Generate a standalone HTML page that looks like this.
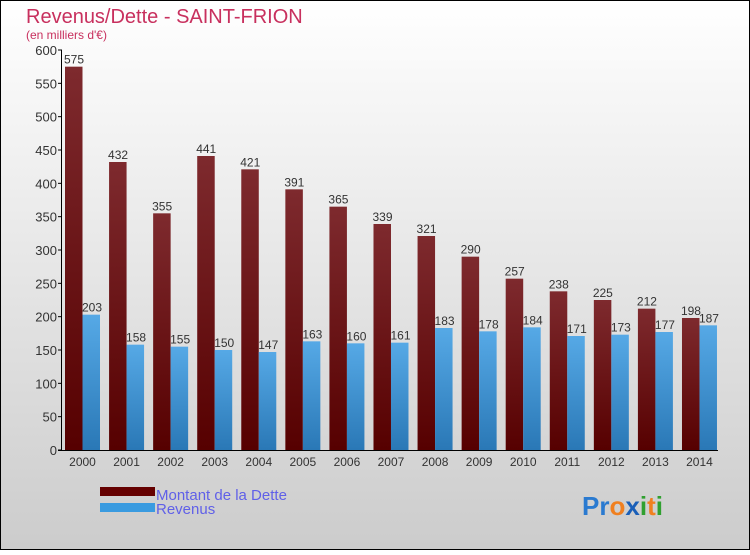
<!DOCTYPE html>
<html><head><meta charset="utf-8"><style>
body{margin:0;}
#c{position:relative;width:750px;height:550px;}
svg text{font-family:"Liberation Sans",sans-serif;}
</style></head><body>
<div id="c">
<svg id="s" width="750" height="550" xmlns="http://www.w3.org/2000/svg">
<defs>
<linearGradient id="bg" x1="0" y1="0" x2="0" y2="1"><stop offset="0" stop-color="#ffffff"/><stop offset="1" stop-color="#cccccc"/></linearGradient>
<linearGradient id="gd" x1="0" y1="0" x2="0" y2="1"><stop offset="0" stop-color="#7e2a2e"/><stop offset="1" stop-color="#560000"/></linearGradient>
<linearGradient id="gr" x1="0" y1="0" x2="0" y2="1"><stop offset="0" stop-color="#56a9e6"/><stop offset="1" stop-color="#2a78b6"/></linearGradient>
</defs>
<rect x="0.5" y="0.5" width="749" height="549" fill="url(#bg)" stroke="#000"/>
<text x="26" y="23" font-size="20" fill="#c8305e">Revenus/Dette - SAINT-FRION</text>
<text x="26" y="39" font-size="12" fill="#c8305e">(en milliers d'€)</text>
<g id="axes"></g>
<g id="bars"></g>
<rect x="100" y="487" width="55" height="9" fill="#650000"/>
<rect x="100" y="503" width="55" height="9" fill="#3a9be0"/>
<text x="156" y="500" font-size="15" fill="#6060e8">Montant de la Dette</text>
<text x="156" y="514" font-size="15" fill="#6060e8">Revenus</text>
<g font-size="26" font-weight="bold">
<text x="582" y="515"><tspan fill="#2a7ad0">Pr</tspan><tspan fill="#f08020">o</tspan><tspan fill="#1a5fb8">x</tspan><tspan fill="#30a030">i</tspan><tspan fill="#f08020">t</tspan><tspan fill="#30a030">i</tspan></text>
</g>
</svg>
</div>
<script>
const years=["2000","2001","2002","2003","2004","2005","2006","2007","2008","2009","2010","2011","2012","2013","2014"];
const dette=[575,432,355,441,421,391,365,339,321,290,257,238,225,212,198];
const revenus=[203,158,155,150,147,163,160,161,183,178,184,171,173,177,187];
const yTicks=[0,50,100,150,200,250,300,350,400,450,500,550,600];
const NS="http://www.w3.org/2000/svg";
const y0=450,yTop=50,yMax=600,x0=62,step=44.07;
function yS(v){return y0-(v/yMax)*(y0-yTop);}
function xS(i){return 65+i*step;}
function mk(t,a,p){const e=document.createElementNS(NS,t);for(const k in a)e.setAttribute(k,a[k]);p.appendChild(e);return e;}
const ax=document.getElementById('axes'),bg=document.getElementById('bars');
const yl=mk('line',{x1:x0-0.5,y1:yTop,x2:x0-0.5,y2:y0,stroke:'#000'},ax);


const xl=mk('line',{x1:x0-4,y1:y0+0.5,x2:718,y2:y0+0.5,stroke:'#000'},ax);


yTicks.forEach(v=>{
  const y=yS(v);
  mk('line',{x1:x0-4,y1:y,x2:x0,y2:y,stroke:'#000'},ax);
  const t=mk('text',{x:x0-5,y:y+5,'font-size':13,fill:'#333','text-anchor':'end'},ax);
  t.textContent=v;
  
  
});
years.forEach((yr,i)=>{
  const x=xS(i);
  const t=mk('text',{x:x+17.5,y:466,'font-size':12,fill:'#333','text-anchor':'middle'},ax);
  t.textContent=yr;
  
  
  const d=mk('rect',{x:x,y:yS(dette[i]),width:17.5,height:y0-yS(dette[i]),fill:'url(#gd)'},bg);
  
  
  const r=mk('rect',{x:x+17.5,y:yS(revenus[i]),width:17.5,height:y0-yS(revenus[i]),fill:'url(#gr)'},bg);
  
  
  const dl=mk('text',{x:x+9,y:yS(dette[i])-3,'font-size':12,fill:'#333','text-anchor':'middle'},bg);
  dl.textContent=dette[i];
  
  
  const rl=mk('text',{x:x+27,y:yS(revenus[i])-3,'font-size':12,fill:'#333','text-anchor':'middle'},bg);
  rl.textContent=revenus[i];
  
  
});
</script>
</body></html>
